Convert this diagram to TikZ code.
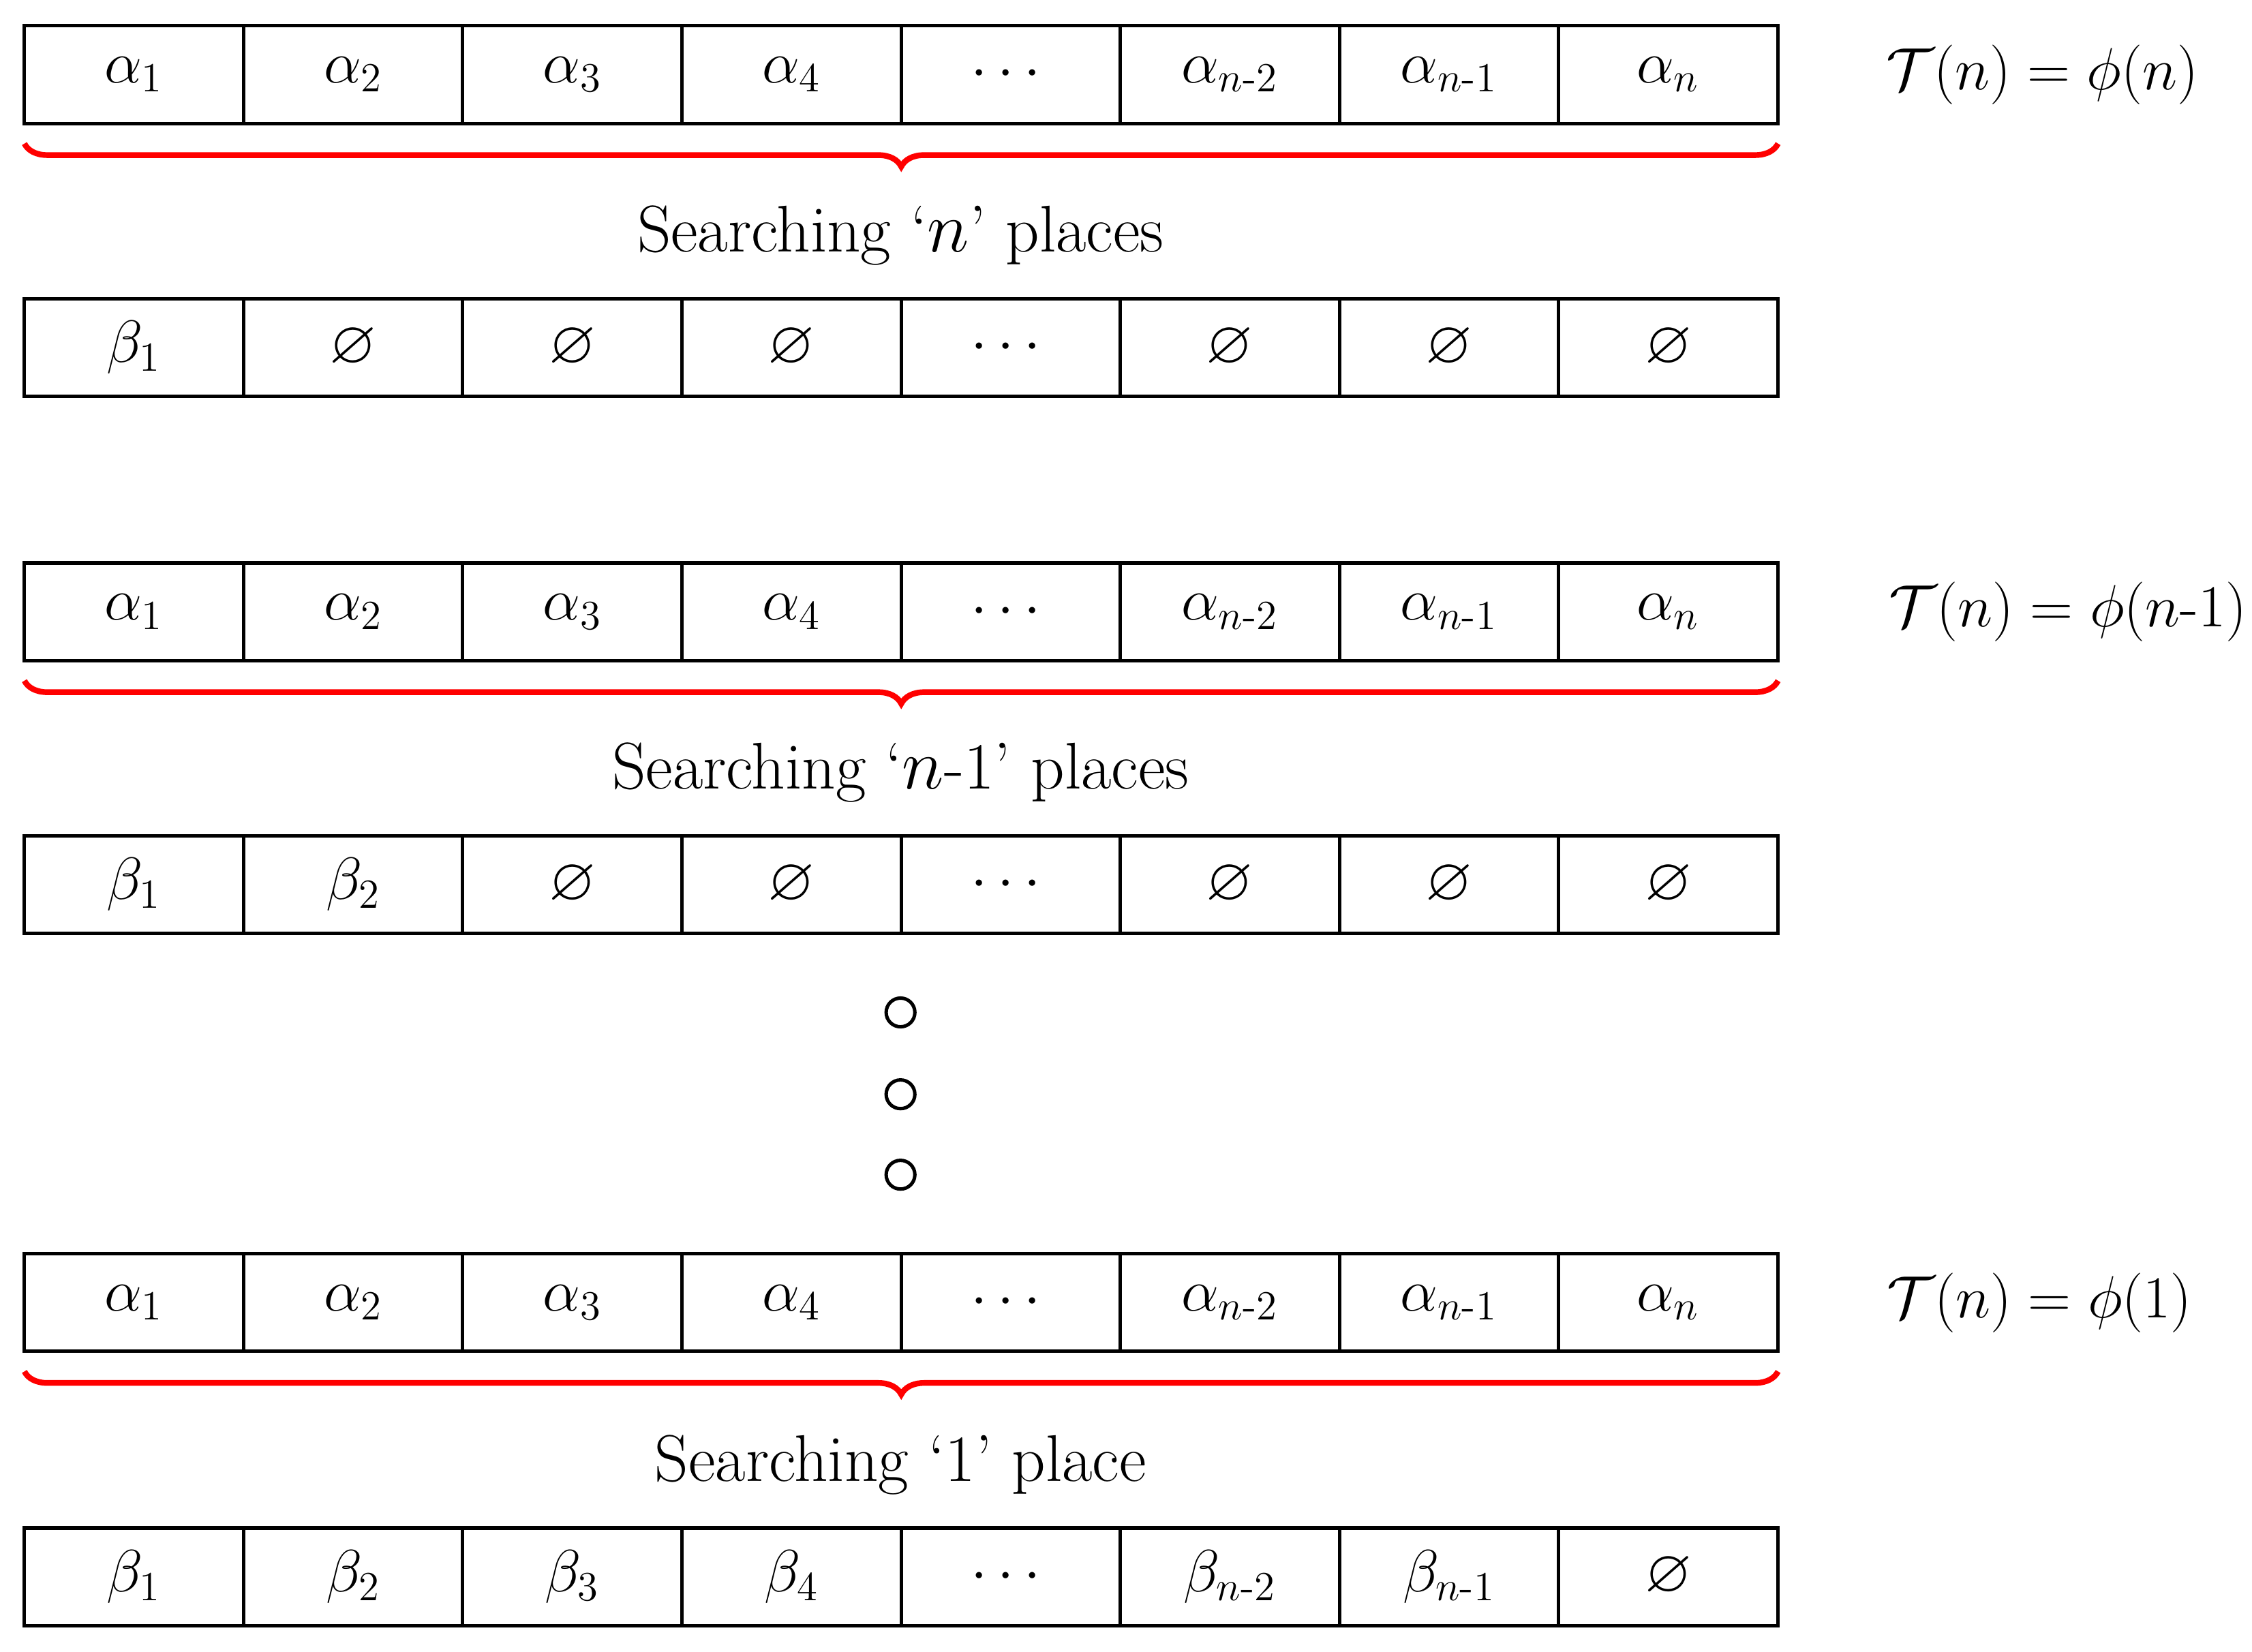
\documentclass[tikz,border=0pt]{standalone}
\usepackage{amsmath,amssymb}
\usetikzlibrary{decorations.pathreplacing}
\begin{document}
\begin{tikzpicture}[x=0.5pt,y=-0.5pt,
  cell/.style={draw,line width=1.2pt,minimum width=76.3pt,minimum height=34pt,inner sep=0pt,font=\fontsize{21}{25}\selectfont},
  lbl/.style={font=\fontsize{23}{27}\selectfont},
  rbrace/.style={draw=red,line width=2pt,decorate,decoration={brace,mirror,amplitude=8pt}}]
\useasboundingbox (0,0) rectangle (1568,1150);
\def\cw{152.6}
\newcommand\myrow[3]{%
  \foreach \t [count=\i] in {#3} {
    \node[cell] (#1c\i) at ({17+\cw*(\i-0.5)},#2) {$\t$};
  }}
\myrow{a}{52}{\alpha_1,\alpha_2,\alpha_3,\alpha_4,\cdots,\alpha_{n\text{-}2},\alpha_{n\text{-}1},\alpha_n}
\myrow{b}{242}{\beta_1,\varnothing,\varnothing,\varnothing,\cdots,\varnothing,\varnothing,\varnothing}
\myrow{c}{426}{\alpha_1,\alpha_2,\alpha_3,\alpha_4,\cdots,\alpha_{n\text{-}2},\alpha_{n\text{-}1},\alpha_n}
\myrow{d}{616}{\beta_1,\beta_2,\varnothing,\varnothing,\cdots,\varnothing,\varnothing,\varnothing}
\myrow{e}{907}{\alpha_1,\alpha_2,\alpha_3,\alpha_4,\cdots,\alpha_{n\text{-}2},\alpha_{n\text{-}1},\alpha_n}
\myrow{f}{1098}{\beta_1,\beta_2,\beta_3,\beta_4,\cdots,\beta_{n\text{-}2},\beta_{n\text{-}1},\varnothing}
\coordinate (ab1) at (17,100); \coordinate (ab2) at (1238,100);
\coordinate (cb1) at (17,474); \coordinate (cb2) at (1238,474);
\coordinate (eb1) at (17,955); \coordinate (eb2) at (1238,955);
\draw[rbrace] (ab1) -- (ab2);
\draw[rbrace] (cb1) -- (cb2);
\draw[rbrace] (eb1) -- (eb2);
\node[lbl] (s1) at (627,164) {Searching `$n$' places};
\node[lbl] (s2) at (627,538) {Searching `$n$-1' places};
\node[lbl] (s3) at (627,1020) {Searching `1' place};
\node[lbl,font=\fontsize{21}{25}\selectfont] (t1) at (1422,52) {$\mathcal{T}(n) = \phi(n)$};
\node[lbl,font=\fontsize{21}{25}\selectfont] (t2) at (1440,426) {$\mathcal{T}(n) = \phi(n\text{-}1)$};
\node[lbl,font=\fontsize{21}{25}\selectfont] (t3) at (1420,907) {$\mathcal{T}(n) = \phi(1)$};
\foreach \yy [count=\k] in {705,762,818}
  \node[draw,circle,line width=1.2pt,minimum size=10pt,inner sep=0pt] (o\k) at (627,\yy) {};
\end{tikzpicture}
\end{document}
